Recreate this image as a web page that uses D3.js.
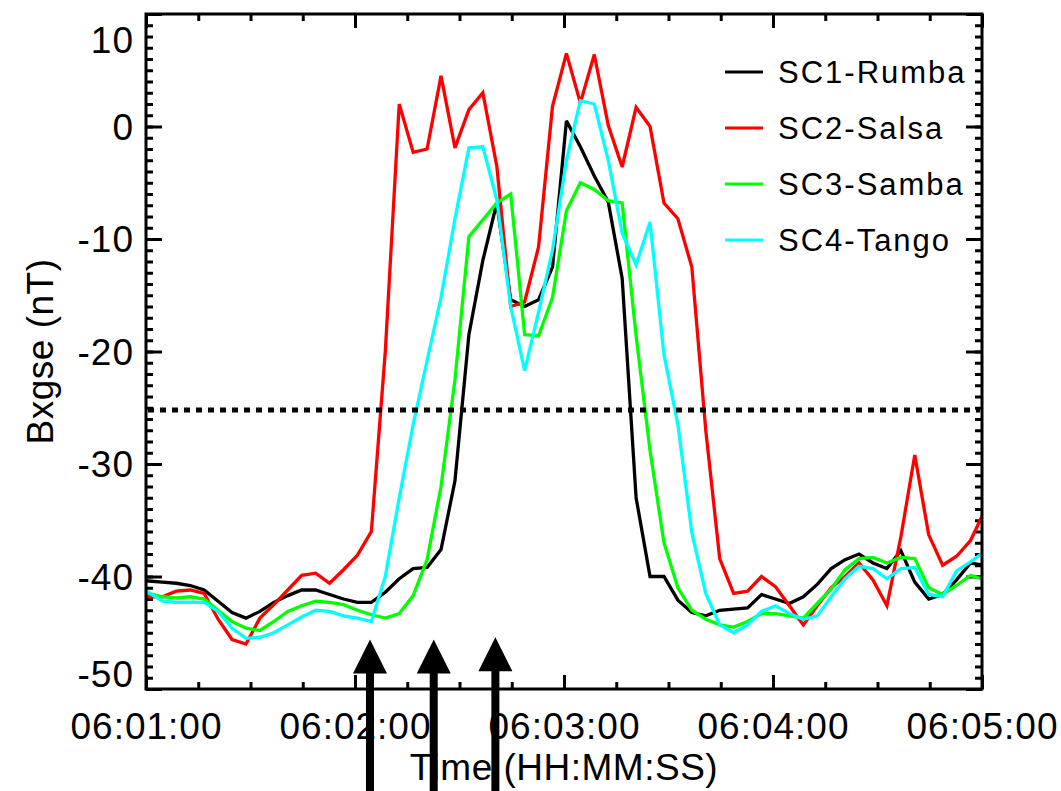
<!DOCTYPE html>
<html>
<head>
<meta charset="utf-8">
<script src="https://cdn.jsdelivr.net/npm/d3@7"></script>
<style>
  body { margin: 0; background: #fff; }
  text { font-family: "Liberation Sans", Arial, Helvetica, sans-serif; fill: #000; }
</style>
</head>
<body>
<div id="chart"></div>
<script>
// seconds after 06:01:00 of each sample (4 s cadence)
var sampleSeconds = [-3.3, 0.7, 4.7, 8.7, 12.7, 16.7, 20.7, 24.7, 28.7, 32.7, 36.7, 40.7,
  44.7, 48.7, 52.7, 56.7, 60.7, 64.7, 68.7, 72.7, 76.7, 80.7, 84.7, 88.7, 92.7, 96.7,
  100.7, 104.7, 108.7, 112.7, 116.7, 120.7, 124.7, 128.7, 132.7, 136.7, 140.7, 144.7,
  148.7, 152.7, 156.7, 160.7, 164.7, 168.7, 172.7, 176.7, 180.7, 184.7, 188.7, 192.7,
  196.7, 200.7, 204.7, 208.7, 212.7, 216.7, 220.7, 224.7, 228.7, 232.7, 236.7, 240.7];

var rumba = [-40.3, -40.4, -40.5, -40.6, -40.8, -41.2, -42.2, -43.2, -43.7, -43.1, -42.3, -41.7,
  -41.2, -41.2, -41.6, -42.0, -42.3, -42.3, -41.4, -40.2, -39.3, -39.2, -37.6, -31.5, -18.5, -11.9,
  -6.8, -15.4, -16.0, -15.4, -12.5, 0.5, -1.8, -4.4, -6.7, -13.5, -33.0, -40.0, -40.0, -42.1,
  -43.2, -43.5, -43.0, -42.9, -42.8, -41.6, -42.0, -42.4, -41.8, -40.7, -39.3, -38.5, -38.0,
  -38.8, -39.3, -37.7, -40.5, -42.0, -41.6, -40.3, -38.8, -39.0];

var salsa = [-41.0, -41.8, -41.8, -41.3, -41.2, -41.5, -43.8, -45.6, -46.0, -43.7, -42.5, -41.2,
  -39.9, -39.7, -40.6, -39.4, -38.1, -36.0, -20.0, 2.0, -2.3, -2.0, 4.5, -1.9, 1.5, 3.0,
  -3.5, -16.0, -15.6, -10.7, 1.8, 6.5, 2.1, 6.4, 0.1, -3.6, 1.7, 0.0, -6.8, -8.2,
  -12.5, -27.0, -38.4, -41.5, -41.3, -40.0, -40.9, -42.6, -44.3, -42.6, -41.0, -40.0, -38.8,
  -40.3, -42.6, -36.5, -29.2, -36.3, -39.0, -38.2, -36.8, -34.2];

var samba = [-41.0, -41.5, -41.8, -41.9, -41.8, -42.0, -43.0, -44.0, -44.6, -44.8, -44.0, -43.1,
  -42.6, -42.2, -42.3, -42.5, -43.0, -43.4, -43.7, -43.3, -41.7, -38.5, -32.0, -22.5, -9.8, -8.3,
  -6.8, -6.0, -18.5, -18.6, -15.2, -7.5, -5.0, -5.6, -6.6, -6.8, -18.6, -28.8, -37.0, -41.0,
  -43.0, -43.8, -44.3, -44.5, -44.0, -43.3, -43.3, -43.5, -43.7, -42.4, -41.1, -39.4, -38.4,
  -38.3, -38.8, -38.3, -38.4, -41.0, -41.6, -40.8, -39.9, -40.3];

var tango = [-41.0, -41.4, -42.2, -42.3, -42.3, -42.3, -43.1, -44.6, -45.5, -45.4, -45.0, -44.3,
  -43.6, -43.0, -43.1, -43.5, -43.7, -44.0, -40.0, -33.0, -26.5, -20.8, -15.2, -8.2, -1.9, -1.8,
  -6.5, -16.0, -21.7, -16.5, -11.0, -3.0, 2.3, 2.0, -3.0, -9.5, -12.3, -8.5, -20.3, -26.5,
  -36.1, -41.5, -44.3, -45.0, -44.3, -43.1, -42.6, -43.3, -43.8, -43.5, -41.8, -40.2, -39.1,
  -39.3, -40.2, -39.3, -39.2, -41.6, -41.8, -39.5, -38.7, -37.8];

var seriesNames = ["SC1-Rumba", "SC2-Salsa", "SC3-Samba", "SC4-Tango"];
var seriesColors = ["#000000", "#ff0000", "#00ff00", "#00ffff"];
var seriesValues = [rumba, salsa, samba, tango];

var yTicks = [-50, -40, -30, -20, -10, 0, 10];
var threshold = -25.2;
// annotation arrows: seconds after 06:01:00 and tip value (nT)
var arrowSeconds = [64.3, 82.6, 100.3];
var arrowTips = [-45.6, -45.6, -45.4];

var width = 1061, height = 791;
var margin = { left: 146, right: 79, top: 14, bottom: 102 };

var t0 = new Date(Date.UTC(2000, 0, 1, 6, 1, 0));
var t1 = new Date(Date.UTC(2000, 0, 1, 6, 5, 0));
function toDate(s) { return new Date(t0.getTime() + s * 1000); }

var svg = d3.select("#chart").append("svg")
  .attr("width", width)
  .attr("height", height)
  .style("display", "block");

var x = d3.scaleUtc().domain([t0, t1]).range([margin.left, width - margin.right]);
var y = d3.scaleLinear().domain([-50, 10]).range([height - margin.bottom, margin.top]);

svg.append("clipPath").attr("id", "plotclip")
  .append("rect")
  .attr("x", margin.left).attr("y", margin.top)
  .attr("width", x.range()[1] - margin.left)
  .attr("height", y.range()[0] - margin.top);

// axes: ticks point inward on all four sides
function styleAxis(g) {
  g.select(".domain").remove();
  g.selectAll(".tick line").attr("stroke", "#000").attr("stroke-width", 3);
  g.selectAll("text").style("font-size", "37px").style("letter-spacing", "1px").attr("fill", "#000");
}

svg.append("g").attr("transform", "translate(0," + y.range()[0] + ")")
  .call(d3.axisBottom(x).ticks(d3.utcSecond.every(15)).tickSize(-7).tickFormat(""))
  .call(styleAxis);
svg.append("g").attr("transform", "translate(0," + y.range()[0] + ")")
  .call(d3.axisBottom(x).ticks(d3.utcMinute.every(1)).tickSize(-14).tickPadding(24)
    .tickFormat(d3.utcFormat("%H:%M:%S")))
  .call(styleAxis);
svg.append("g").attr("transform", "translate(0," + margin.top + ")")
  .call(d3.axisTop(x).ticks(d3.utcSecond.every(15)).tickSize(-7).tickFormat(""))
  .call(styleAxis);
svg.append("g").attr("transform", "translate(0," + margin.top + ")")
  .call(d3.axisTop(x).ticks(d3.utcMinute.every(1)).tickSize(-14).tickFormat(""))
  .call(styleAxis);

svg.append("g").attr("transform", "translate(" + margin.left + ",0)")
  .call(d3.axisLeft(y).tickValues(d3.range(-50, 11, 1)).tickSize(-7).tickFormat(""))
  .call(styleAxis);
var yAxisG = svg.append("g").attr("transform", "translate(" + margin.left + ",0)")
  .call(d3.axisLeft(y).tickValues(yTicks).tickSize(-16).tickPadding(12)
    .tickFormat(function (d) { return String(d); }))
  .call(styleAxis);
// end labels sit inside the frame like the original
yAxisG.selectAll(".tick text").attr("dy", function (d) {
  if (d === 10) return "1.05em";
  if (d === -50) return "-0.08em";
  return "0.35em";
});
svg.append("g").attr("transform", "translate(" + x.range()[1] + ",0)")
  .call(d3.axisRight(y).tickValues(d3.range(-50, 11, 1)).tickSize(-7).tickFormat(""))
  .call(styleAxis);
svg.append("g").attr("transform", "translate(" + x.range()[1] + ",0)")
  .call(d3.axisRight(y).tickValues(yTicks).tickSize(-16).tickFormat(""))
  .call(styleAxis);

// series
var line = d3.line()
  .x(function (d) { return x(d.date); })
  .y(function (d) { return y(d.value); });

var lines = svg.append("g").attr("class", "lines").attr("clip-path", "url(#plotclip)");
seriesValues.forEach(function (vals, i) {
  var pts = vals.map(function (v, k) { return { date: toDate(sampleSeconds[k]), value: v }; });
  lines.append("path")
    .datum(pts)
    .attr("fill", "none")
    .attr("stroke", seriesColors[i])
    .attr("stroke-width", 3.3)
    .attr("stroke-linejoin", "miter")
    .attr("stroke-miterlimit", 3)
    .attr("d", line);
});

// threshold
svg.append("line")
  .attr("x1", x.range()[0] + 2).attr("x2", x.range()[1] - 2)
  .attr("y1", y(threshold)).attr("y2", y(threshold))
  .attr("stroke", "#000")
  .attr("stroke-width", 5)
  .attr("stroke-dasharray", "6,6");

// frame
svg.append("rect")
  .attr("x", margin.left).attr("y", margin.top)
  .attr("width", x.range()[1] - margin.left)
  .attr("height", y.range()[0] - margin.top)
  .attr("fill", "none")
  .attr("stroke", "#000")
  .attr("stroke-width", 3);

// legend
var legend = svg.append("g").attr("class", "legend");
seriesNames.forEach(function (name, i) {
  var ly = 72 + i * 56;
  legend.append("line")
    .attr("x1", 725).attr("x2", 763)
    .attr("y1", ly).attr("y2", ly)
    .attr("stroke", seriesColors[i])
    .attr("stroke-width", 3);
  legend.append("text")
    .attr("x", 778).attr("y", ly)
    .attr("dy", "0.36em")
    .style("font-size", "31px")
    .style("letter-spacing", "2px")
    .text(name);
});

// axis titles
svg.append("text")
  .attr("x", (x.range()[0] + x.range()[1]) / 2)
  .attr("y", 780)
  .attr("text-anchor", "middle")
  .style("font-size", "37px")
  .style("letter-spacing", "0.5px")
  .text("Time (HH:MM:SS)");

svg.append("text")
  .attr("transform", "translate(53," + (y.range()[0] + y.range()[1]) / 2 + ") rotate(-90)")
  .attr("text-anchor", "middle")
  .style("font-size", "37px")
  .style("letter-spacing", "0.5px")
  .text("Bxgse (nT)");

// arrows drawn on top of everything
var arrows = svg.append("g").attr("class", "arrows");
arrowSeconds.forEach(function (s, i) {
  var ax = x(toDate(s)), ay = y(arrowTips[i]);
  arrows.append("rect")
    .attr("x", ax - 4).attr("y", ay + 30)
    .attr("width", 8).attr("height", height - ay)
    .attr("fill", "#000");
  arrows.append("path")
    .attr("d", "M" + ax + "," + ay + "L" + (ax + 17) + "," + (ay + 34) + "L" + (ax - 17) + "," + (ay + 34) + "Z")
    .attr("fill", "#000");
});
</script>
</body>
</html>
